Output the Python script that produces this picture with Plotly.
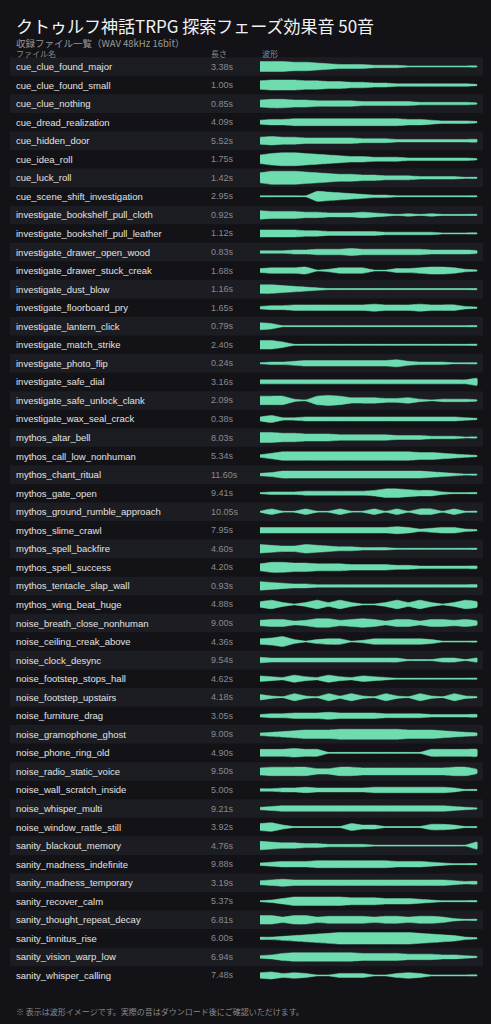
import plotly.graph_objects as go

TITLE = "クトゥルフ神話TRPG 探索フェーズ効果音 50音"
SUBTITLE = "収録ファイル一覧（WAV 48kHz 16bit）"
HEADERS = ["ファイル名", "長さ", "波形"]
FOOTNOTE = "※ 表示は波形イメージです。実際の音はダウンロード後にご確認いただけます。"

names = [
    "cue_clue_found_major", "cue_clue_found_small", "cue_clue_nothing", "cue_dread_realization",
    "cue_hidden_door", "cue_idea_roll", "cue_luck_roll", "cue_scene_shift_investigation",
    "investigate_bookshelf_pull_cloth", "investigate_bookshelf_pull_leather",
    "investigate_drawer_open_wood", "investigate_drawer_stuck_creak", "investigate_dust_blow",
    "investigate_floorboard_pry", "investigate_lantern_click", "investigate_match_strike",
    "investigate_photo_flip", "investigate_safe_dial", "investigate_safe_unlock_clank",
    "investigate_wax_seal_crack", "mythos_altar_bell", "mythos_call_low_nonhuman",
    "mythos_chant_ritual", "mythos_gate_open", "mythos_ground_rumble_approach",
    "mythos_slime_crawl", "mythos_spell_backfire", "mythos_spell_success",
    "mythos_tentacle_slap_wall", "mythos_wing_beat_huge", "noise_breath_close_nonhuman",
    "noise_ceiling_creak_above", "noise_clock_desync", "noise_footstep_stops_hall",
    "noise_footstep_upstairs", "noise_furniture_drag", "noise_gramophone_ghost",
    "noise_phone_ring_old", "noise_radio_static_voice", "noise_wall_scratch_inside",
    "noise_whisper_multi", "noise_window_rattle_still", "sanity_blackout_memory",
    "sanity_madness_indefinite", "sanity_madness_temporary", "sanity_recover_calm",
    "sanity_thought_repeat_decay", "sanity_tinnitus_rise", "sanity_vision_warp_low",
    "sanity_whisper_calling",
]

durations = [
    3.38, 1.00, 0.85, 4.09, 5.52, 1.75, 1.42, 2.95, 0.92, 1.12,
    0.83, 1.68, 1.16, 1.65, 0.79, 2.40, 0.24, 3.16, 2.09, 0.38,
    8.03, 5.34, 11.60, 9.41, 10.05, 7.95, 4.60, 4.20, 0.93, 4.88,
    9.00, 4.36, 9.54, 4.62, 4.18, 3.05, 9.00, 4.90, 9.50, 5.00,
    9.21, 3.92, 4.76, 9.88, 3.19, 5.37, 6.81, 6.00, 6.94, 7.48,
]

# rough amplitude envelope per file, 20 steps across the waveform column (0..9)
envelopes = [
    [6, 6, 6, 5, 5, 4, 3, 2, 2, 2, 1, 1, 1, 0, 0, 0, 0, 0, 0, 0],
    [5, 6, 6, 6, 5, 5, 4, 4, 3, 3, 2, 2, 1, 1, 1, 1, 1, 1, 1, 0],
    [4, 5, 5, 4, 4, 3, 3, 3, 3, 2, 2, 2, 2, 2, 1, 1, 1, 1, 1, 0],
    [2, 3, 3, 4, 4, 4, 4, 4, 4, 4, 4, 4, 4, 3, 3, 2, 1, 1, 1, 0],
    [4, 5, 4, 4, 3, 3, 3, 3, 3, 2, 2, 2, 1, 1, 1, 1, 1, 1, 1, 1],
    [5, 7, 8, 8, 7, 6, 5, 4, 3, 3, 2, 2, 2, 1, 1, 1, 1, 1, 1, 0],
    [6, 8, 8, 8, 7, 6, 5, 4, 4, 3, 3, 2, 2, 2, 1, 1, 1, 1, 0, 0],
    [0, 0, 0, 0, 0, 6, 5, 4, 3, 2, 1, 1, 0, 0, 0, 0, 0, 0, 0, 0],
    [5, 4, 4, 4, 3, 3, 2, 2, 2, 3, 2, 1, 0, 1, 0, 1, 0, 0, 0, 0],
    [4, 4, 4, 4, 3, 3, 2, 2, 2, 2, 2, 1, 1, 1, 1, 1, 0, 0, 0, 0],
    [1, 1, 1, 2, 2, 3, 3, 3, 4, 3, 3, 3, 3, 3, 3, 2, 2, 2, 2, 1],
    [2, 3, 3, 3, 4, 0, 1, 3, 3, 3, 0, 0, 2, 2, 3, 4, 4, 3, 1, 0],
    [5, 5, 4, 3, 2, 1, 0, 0, 0, 0, 0, 0, 0, 0, 0, 0, 0, 0, 0, 0],
    [1, 2, 2, 3, 3, 3, 3, 3, 3, 3, 4, 3, 3, 3, 4, 3, 3, 3, 1, 0],
    [4, 3, 0, 0, 0, 0, 0, 0, 0, 0, 0, 0, 0, 0, 0, 0, 0, 0, 0, 0],
    [5, 5, 3, 0, 0, 0, 0, 0, 0, 0, 0, 0, 0, 0, 0, 0, 0, 0, 0, 0],
    [0, 1, 1, 2, 3, 3, 3, 3, 3, 3, 3, 3, 4, 2, 1, 1, 1, 0, 0, 0],
    [2, 2, 2, 2, 2, 2, 2, 2, 2, 2, 2, 2, 2, 2, 2, 2, 2, 2, 2, 4],
    [5, 5, 5, 1, 0, 5, 6, 5, 3, 3, 3, 2, 2, 3, 1, 0, 1, 1, 1, 0],
    [2, 4, 1, 1, 2, 2, 2, 2, 2, 2, 2, 2, 2, 2, 2, 2, 2, 2, 1, 0],
    [6, 6, 5, 5, 4, 4, 4, 3, 3, 3, 3, 3, 2, 2, 2, 1, 1, 1, 0, 0],
    [1, 3, 5, 5, 5, 5, 5, 5, 5, 5, 5, 5, 5, 5, 4, 4, 3, 2, 1, 0],
    [1, 2, 4, 4, 4, 4, 4, 4, 4, 4, 4, 4, 4, 4, 4, 3, 2, 1, 0, 0],
    [0, 1, 1, 1, 2, 2, 2, 2, 2, 2, 3, 5, 5, 4, 3, 3, 1, 0, 0, 0],
    [0, 3, 0, 0, 3, 0, 0, 3, 0, 0, 3, 0, 3, 0, 3, 3, 0, 3, 0, 0],
    [3, 3, 3, 3, 3, 3, 3, 3, 3, 3, 3, 3, 4, 3, 1, 2, 3, 3, 1, 0],
    [5, 4, 3, 3, 5, 4, 3, 2, 2, 1, 1, 1, 0, 0, 0, 0, 0, 0, 0, 0],
    [4, 6, 6, 5, 5, 4, 4, 4, 3, 3, 3, 3, 2, 2, 1, 1, 1, 1, 1, 1],
    [5, 4, 3, 2, 2, 1, 1, 1, 1, 1, 1, 1, 1, 1, 1, 1, 1, 1, 1, 1],
    [3, 5, 2, 0, 2, 5, 2, 5, 2, 0, 0, 2, 5, 2, 5, 2, 0, 2, 5, 3],
    [3, 4, 4, 2, 3, 5, 5, 3, 4, 5, 4, 2, 4, 4, 2, 4, 4, 3, 4, 2],
    [3, 4, 6, 2, 0, 2, 3, 3, 0, 1, 3, 3, 3, 3, 3, 2, 0, 0, 0, 0],
    [3, 2, 2, 2, 2, 2, 2, 2, 2, 2, 2, 2, 2, 0, 0, 0, 2, 2, 0, 2],
    [3, 2, 1, 4, 2, 1, 4, 2, 1, 3, 2, 1, 0, 0, 0, 0, 0, 0, 0, 0],
    [3, 1, 0, 4, 1, 0, 4, 1, 4, 1, 0, 4, 1, 0, 4, 1, 0, 4, 1, 0],
    [1, 2, 2, 3, 3, 3, 4, 3, 3, 3, 3, 2, 2, 2, 2, 1, 1, 1, 1, 1],
    [1, 2, 3, 4, 5, 5, 5, 6, 6, 6, 6, 6, 6, 5, 5, 5, 4, 3, 2, 1],
    [4, 4, 4, 5, 4, 4, 0, 0, 0, 0, 0, 0, 0, 0, 0, 4, 4, 4, 4, 4],
    [4, 5, 5, 5, 5, 3, 3, 5, 5, 4, 4, 4, 4, 4, 4, 4, 4, 5, 5, 2],
    [1, 1, 2, 2, 3, 2, 2, 2, 2, 2, 3, 3, 3, 3, 3, 3, 3, 2, 0, 0],
    [1, 2, 3, 3, 3, 3, 3, 3, 3, 3, 3, 3, 3, 3, 3, 3, 3, 2, 1, 0],
    [4, 5, 2, 0, 0, 0, 0, 0, 4, 2, 2, 0, 0, 0, 0, 3, 3, 2, 0, 0],
    [5, 4, 3, 3, 2, 2, 1, 1, 1, 1, 0, 0, 0, 0, 0, 0, 0, 0, 0, 4],
    [1, 2, 3, 3, 3, 4, 4, 4, 4, 4, 4, 4, 3, 3, 3, 2, 1, 0, 0, 0],
    [2, 3, 4, 3, 3, 3, 3, 3, 3, 3, 3, 3, 3, 3, 3, 3, 3, 2, 1, 1],
    [0, 1, 3, 5, 5, 5, 5, 5, 4, 4, 4, 3, 3, 3, 2, 1, 0, 0, 0, 0],
    [5, 5, 3, 5, 5, 3, 4, 4, 4, 4, 3, 4, 4, 3, 4, 4, 3, 1, 0, 0],
    [1, 1, 2, 3, 4, 5, 6, 7, 7, 7, 7, 7, 7, 7, 6, 5, 4, 3, 1, 0],
    [1, 2, 4, 5, 5, 5, 5, 5, 5, 4, 4, 4, 4, 3, 3, 3, 2, 2, 1, 0],
    [3, 4, 2, 3, 2, 0, 0, 2, 2, 2, 0, 0, 2, 3, 2, 0, 0, 0, 0, 0],
]

BG = "#131317"
STRIPE = "#1c1d22"
WAVE = "#6fdcb0"
ROW0, PITCH = 66.5, 18.55
WX0, WX1 = 260, 477
AMP = 0.75  # px per envelope unit
FONT = "Liberation Sans, Noto Sans CJK JP, sans-serif"
JFONT = "Noto Sans CJK JP, sans-serif"

fig = go.Figure()
shapes = []
annotations = []

for i, (name, dur, env) in enumerate(zip(names, durations, envelopes)):
    yc = ROW0 + i * PITCH
    if i % 2 == 0:
        shapes.append(dict(type="rect", x0=10, x1=483, y0=yc - PITCH / 2, y1=yc + PITCH / 2,
                           fillcolor=STRIPE, line_width=0, layer="below"))
    annotations.append(dict(x=14, y=yc, text=name, xanchor="left", showarrow=False,
                            font=dict(size=9.5, color="#e2e2e2")))
    annotations.append(dict(x=209, y=yc, text=f"{dur:.2f}s", xanchor="left", showarrow=False,
                            font=dict(size=9, color="#8a8a8a")))
    n = len(env)
    xs = [WX0 + (WX1 - WX0) * k / (n - 1) for k in range(n)]
    top = [yc - (0.5 + a * AMP) for a in env]
    bot = [yc + (0.5 + a * AMP) for a in env]
    fig.add_trace(go.Scatter(
        x=xs + xs[::-1], y=top + bot[::-1], mode="lines", fill="toself",
        fillcolor=WAVE, line=dict(color=WAVE, width=0.5, shape="spline", smoothing=0.4),
        hoverinfo="skip", showlegend=False,
    ))
    shapes.append(dict(type="line", x0=WX0, x1=WX1, y0=yc, y1=yc,
                       line=dict(color=WAVE, width=1)))

annotations += [
    dict(x=14, y=25, text=TITLE, xanchor="left", showarrow=False,
         font=dict(size=17, color="#f2f2f2", family=JFONT)),
    dict(x=14, y=43, text=SUBTITLE, xanchor="left", showarrow=False,
         font=dict(size=9.5, color="#9a9a9a", family=JFONT)),
    dict(x=14, y=53.5, text=HEADERS[0], xanchor="left", showarrow=False,
         font=dict(size=8, color="#8a8a8a", family=JFONT)),
    dict(x=209, y=53.5, text=HEADERS[1], xanchor="left", showarrow=False,
         font=dict(size=8, color="#8a8a8a", family=JFONT)),
    dict(x=260, y=53.5, text=HEADERS[2], xanchor="left", showarrow=False,
         font=dict(size=8, color="#8a8a8a", family=JFONT)),
    dict(x=14, y=1011, text=FOOTNOTE, xanchor="left", showarrow=False,
         font=dict(size=8, color="#8a8a8a", family=JFONT)),
]

fig.update_layout(
    width=491, height=1024, margin=dict(l=0, r=0, t=0, b=0),
    paper_bgcolor=BG, plot_bgcolor=BG,
    font=dict(family=FONT),
    xaxis=dict(range=[0, 491], visible=False, fixedrange=True),
    yaxis=dict(range=[1024, 0], visible=False, fixedrange=True),
    shapes=shapes, annotations=annotations,
)

fig.write_html(
    "out.html",
    config={"displayModeBar": False},
    post_script="document.body.style.margin='0';document.body.style.background='#131317';",
)
